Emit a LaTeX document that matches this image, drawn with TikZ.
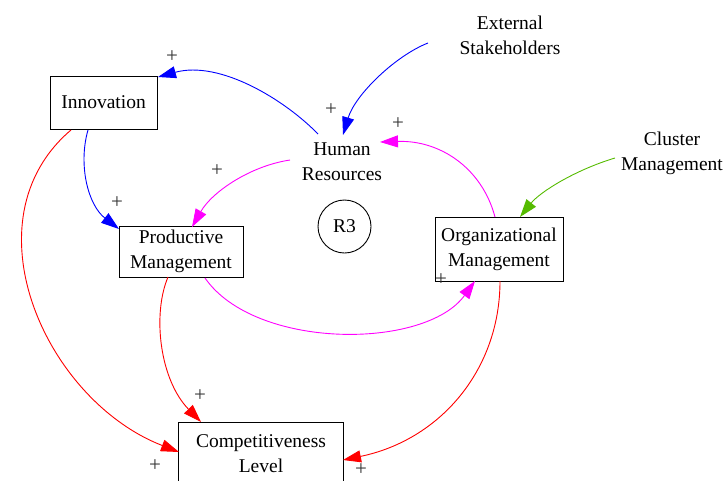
\documentclass[tikz,border=0pt]{standalone}
\usepackage{fontspec}
\setmainfont{Liberation Serif}
\newfontfamily\lserif{Liberation Serif}
\usetikzlibrary{arrows.meta}
\definecolor{cgreen}{HTML}{55BB00}
\definecolor{cmag}{HTML}{FF00FF}
\definecolor{cred}{HTML}{FF0000}
\definecolor{cblue}{HTML}{0000FF}
\definecolor{plusgray}{HTML}{333333}
\tikzset{
  var/.style={draw=black, line width=1pt, fill=white, align=center, inner sep=0pt, font=\lserif\fontsize{19.5}{25}\selectfont},
  txt/.style={align=center, inner sep=0pt, font=\lserif\fontsize{19.5}{25}\selectfont},
  lnk/.style={line width=0.9pt, -{Triangle[length=18pt,width=12pt]}},
  pl/.style={text=plusgray, inner sep=0pt, font=\lserif\fontsize{21}{21}\selectfont}
}
\begin{document}
\begin{tikzpicture}[x=1pt,y=-1pt]
\useasboundingbox (0,0) rectangle (726,480);
% nodes
\node[var, minimum width=107pt, minimum height=53pt] (inn) at (103.5,102.5) {Innovation};
\node[var, minimum width=124pt, minimum height=51pt] (pm) at (181,251.5) {Productive\\Management};
\node[var, minimum width=128pt, minimum height=64pt] (om) at (499,249) {Organizational\\Management};
\node[var, minimum width=165pt, minimum height=64pt] (cl) at (261,454) {Competitiveness\\Level};
\node[txt] (hr) at (342,162) {Human\\Resources};
\node[txt] (es) at (510,35) {External\\Stakeholders};
\node[txt] (cm) at (672,153) {Cluster\\Management};
\node[draw, circle, line width=0.9pt, minimum size=53pt, inner sep=0pt, font=\lserif\fontsize{19.5}{25}\selectfont] (r3) at (344.5,226.5) {R3};
% anchor coordinates
\coordinate (hrA) at (318,134);
\coordinate (innA) at (158,77);
\coordinate (esA) at (428,43);
\coordinate (hrB) at (343,135);
\coordinate (innB) at (88,130);
\coordinate (pmA) at (119,229);
\coordinate (hrC) at (290,160);
\coordinate (pmB) at (192,227);
\coordinate (omA) at (495,217);
\coordinate (hrD) at (380,142);
\coordinate (cmA) at (615,158);
\coordinate (omB) at (520,217);
\coordinate (pmC) at (205,278);
\coordinate (omC) at (475,281);
\coordinate (innC) at (71,130);
\coordinate (clA) at (179,452);
\coordinate (pmD) at (168,277);
\coordinate (clB) at (201,422);
\coordinate (omD) at (500,281);
\coordinate (clC) at (343,460);
% links
\draw[lnk, cblue] (hrA) .. controls (285,100) and (220,60) .. (innA);
\draw[lnk, cblue] (esA) .. controls (395,56) and (355,95) .. (hrB);
\draw[lnk, cblue] (innB) .. controls (78,165) and (88,205) .. (pmA);
\draw[lnk, cmag] (hrC) .. controls (250,166) and (212,192) .. (pmB);
\draw[lnk, cmag] (omA) .. controls (482,168) and (440,140) .. (hrD);
\draw[lnk, cgreen] (cmA) .. controls (575,170) and (540,192) .. (omB);
\draw[lnk, cmag] (pmC) .. controls (255,350) and (425,350) .. (omC);
\draw[lnk, cred] (innC) .. controls (-35,220) and (45,400) .. (clA);
\draw[lnk, cred] (pmD) .. controls (152,315) and (160,380) .. (clB);
\draw[lnk, cred] (omD) .. controls (500,370) and (440,440) .. (clC);
% polarity labels
\node[pl] (p1) at (172,57) {+};
\node[pl] (p2) at (331,110) {+};
\node[pl] (p3) at (117,203) {+};
\node[pl] (p4) at (217,171) {+};
\node[pl] (p5) at (398,124) {+};
\node[pl] (p6) at (441,280) {+};
\node[pl] (p7) at (155,466) {+};
\node[pl] (p8) at (200,396) {+};
\node[pl] (p9) at (361,470) {+};
\end{tikzpicture}
\end{document}
